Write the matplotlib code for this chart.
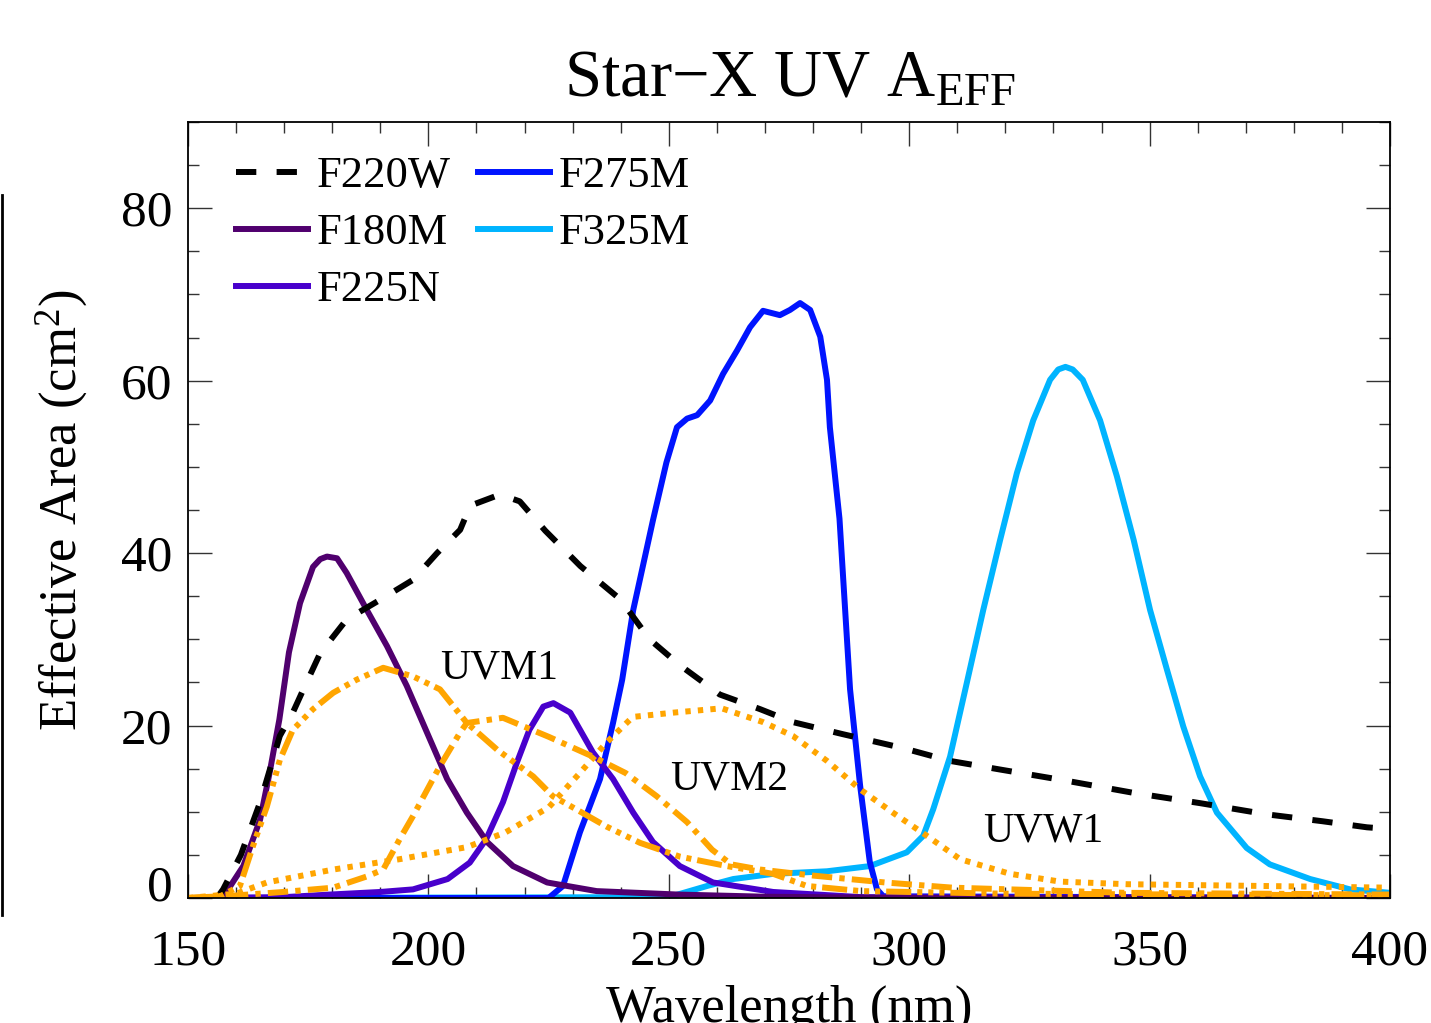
import matplotlib
matplotlib.use("Agg")
import matplotlib.pyplot as plt
from matplotlib.lines import Line2D
from matplotlib.ticker import MultipleLocator, FuncFormatter

plt.rcParams["font.family"] = ["Liberation Serif", "DejaVu Serif"]
plt.rcParams["mathtext.fontset"] = "custom"
plt.rcParams["mathtext.rm"] = "Liberation Serif"
plt.rcParams["mathtext.default"] = "regular"
plt.rcParams["lines.solid_joinstyle"] = "round"
plt.rcParams["lines.dash_joinstyle"] = "round"

# effective area curves (wavelength nm, area cm^2)
wl_f220w = [156, 157.3, 161, 165, 169.1, 171.8, 174, 177.5, 183, 190, 196.8, 201.8, 206.6,
            208.7, 214.9, 219, 224.3, 231.6, 240, 246, 252.3, 260.6, 269, 275.8, 286.2,
            298.6, 308.5, 318.9, 332.7, 346.6, 360.5, 374.4, 386, 395.2, 400]
a_f220w = [0, 1, 5, 11.1, 18.8, 21.5, 24.2, 28.4, 32.3, 34.6, 36.9, 40, 42.7,
           45.5, 46.8, 46, 42.6, 38.5, 34.6, 30, 27, 23.6, 21.9, 20.4, 19,
           17.4, 15.9, 14.9, 13.6, 12.2, 11.0, 9.7, 8.9, 8.2, 8.0]

wl_f180m = [150, 157, 158, 161.5, 165, 167, 169, 171, 173.3, 176, 177.5, 178.9, 181, 183,
            187.2, 191.4, 195.5, 199.7, 203.9, 208, 212.2, 217.6, 224.7, 235, 252, 270,
            300, 400]
a_f180m = [0, 0, 0.7, 3.7, 9.1, 14.6, 20.7, 28.5, 34.2, 38.4, 39.3, 39.6, 39.4, 37.7,
           33.4, 29.2, 24.6, 19.2, 13.8, 9.9, 6.5, 3.7, 1.8, 0.8, 0.4, 0.15,
           0, 0]

wl_f225n = [150, 170, 179.5, 190, 196.8, 204, 208.6, 212, 215.5, 218.4, 221, 223.9, 226,
            229.5, 234.2, 238.4, 242.6, 246.7, 252.3, 259.2, 271.7, 290, 400]
a_f225n = [0, 0.1, 0.4, 0.7, 1.0, 2.2, 4.1, 6.8, 11.1, 15.7, 19.5, 22.2, 22.6,
           21.5, 16.9, 13.8, 9.9, 6.5, 3.7, 1.8, 0.7, 0.1, 0]

wl_f275m = [150, 225, 228, 231.5, 235.7, 238.4, 240.3, 242.6, 246.7, 249.5, 251.7, 253.8,
            255.9, 258.6, 261.3, 264.2, 266.9, 269.6, 273.1, 275.2, 277.3, 279.4, 281.5,
            282.9, 283.5, 285.5, 287.7, 289.8, 291.8, 293.3, 294.6, 400]
a_f275m = [0, 0, 1.4, 7.6, 13.8, 20.3, 25.3, 33.4, 43.8, 50.5, 54.6, 55.6,
           56.0, 57.7, 60.8, 63.5, 66.2, 68.1, 67.6, 68.2, 69.0, 68.2, 65.1,
           60.1, 54.6, 44, 24.2, 13.0, 4.2, 1.0, 0.2, 0]

wl_f325m = [150, 250, 258, 263.4, 271.7, 282.9, 291.8, 299.5, 302.9, 305, 308.5, 312, 315.4,
            318.9, 322.4, 325.8, 329.3, 331, 332.5, 334, 336.1, 339.7, 343.2, 346.7, 350.1,
            353.6, 357, 360.5, 364, 370.2, 375, 383.4, 391.7, 400]
a_f325m = [0, 0.1, 1.4, 2.2, 2.8, 3.1, 3.7, 5.3, 7.2, 10.3, 16.4, 25, 33.4,
           41.5, 49.3, 55.4, 60.1, 61.3, 61.6, 61.3, 60.1, 55.4, 48.9, 41.5, 33.4,
           26.5, 19.9, 14.1, 9.9, 5.8, 3.9, 2.2, 1.0, 0.6]

# orange comparison curves
wl_uvm1 = [150, 156.7, 160.8, 163.5, 166.4, 169.1, 171.8, 176, 180.2, 185, 190.6, 196.8,
           202.4, 208, 214.3, 221.8, 225.9, 228.8, 237, 244, 252.3, 262.1, 271.7, 278.7,
           290, 320, 400]
a_uvm1 = [0, 0.2, 1.4, 6, 10.6, 16, 19.5, 21.9, 23.8, 25.3, 26.7, 25.7,
          24.2, 20.3, 17.2, 14.1, 11.8, 10.9, 8.3, 6.4, 4.8, 3.7, 2.8, 1.4,
          0.8, 0.5, 0.3]

wl_uvm2 = [150, 160, 169.8, 180.2, 187.2, 190.6, 194, 196.8, 202.4, 206.6, 208, 215.5, 225,
           234.2, 241, 247.5, 253.8, 259, 263, 269, 280, 295, 309, 345, 400]
a_uvm2 = [0, 0.3, 0.7, 1.2, 2.5, 3.3, 6.8, 9.5, 15.3, 19.2, 20.3, 20.9, 18.7,
          16.4, 14.5, 11.8, 8.8, 5.6, 3.9, 3.3, 2.6, 1.8, 1.2, 0.6, 0.4]

wl_uvw1 = [150, 160, 166.4, 180.2, 194, 202, 208, 216, 225, 231.5, 237, 242.5, 251, 261,
           269.6, 275.8, 282.9, 289.8, 296.6, 303.7, 310.6, 321, 331.4, 345.3, 400]
a_uvw1 = [0, 0.5, 1.8, 3.3, 4.5, 5.3, 5.9, 7.6, 10.5, 14.5, 18, 21, 21.5, 22,
          20.4, 18.8, 15.9, 12.6, 9.9, 7.2, 4.5, 2.8, 1.9, 1.6, 1.2]

orange_labels = ["UVM1", "UVM2", "UVW1"]
orange_label_pos = [(202.4, 26.7), (250.2, 13.8), (315.3, 7.7)]

LW = 4.3
ORANGE = "#ffa500"

fig = plt.figure(figsize=(14.31, 10.23), dpi=100)
ax = fig.add_axes([188 / 1431, 1 - 898 / 1023, 1202 / 1431, 776 / 1023])

h325, = ax.plot(wl_f325m, a_f325m, color="#00b4ff", lw=LW, label="F325M")
h275, = ax.plot(wl_f275m, a_f275m, color="#0014ff", lw=LW, label="F275M")
h225, = ax.plot(wl_f225n, a_f225n, color="#4800cc", lw=LW, label="F225N")
h180, = ax.plot(wl_f180m, a_f180m, color="#50006e", lw=LW, label="F180M")
h220, = ax.plot(wl_f220w, a_f220w, color="black", lw=LW, dashes=(3.4, 3.4), label="F220W")

ax.plot(wl_uvm1, a_uvm1, color=ORANGE, lw=LW,
        dashes=(4.2, 1.0, 0.85, 1.0, 0.85, 1.0, 0.85, 1.0))
ax.plot(wl_uvm2, a_uvm2, color=ORANGE, lw=LW, dashes=(3.4, 1.2, 0.9, 1.2))
ax.plot(wl_uvw1, a_uvw1, color=ORANGE, lw=LW, dashes=(0.9, 1.2))

for txt, (x, y) in zip(orange_labels, orange_label_pos):
    ax.text(x, y, txt, fontsize=30, ha="left", va="center")

ax.set_xlim(150, 400)
ax.set_ylim(0, 90)
ax.xaxis.set_major_locator(MultipleLocator(50))
ax.xaxis.set_minor_locator(MultipleLocator(10))
ax.yaxis.set_major_locator(MultipleLocator(20))
ax.yaxis.set_minor_locator(MultipleLocator(5))
ax.tick_params(which="both", direction="in", top=True, right=True, color="#333333")
ax.tick_params(which="major", length=17, width=1.0, labelsize=37)
ax.tick_params(axis="x", which="major", pad=22)
ax.tick_params(axis="y", which="major", pad=11)
ax.tick_params(which="minor", length=8, width=1.0)
for sp in ax.spines.values():
    sp.set_linewidth(1.3)

# IDL pushes the "0" label up off the corner, so draw it separately
ax.yaxis.set_major_formatter(FuncFormatter(lambda v, p: "" if v == 0 else f"{v:g}"))
ax.annotate("0", xy=(0, 0), xycoords="axes fraction", xytext=(-11, 10.8),
            textcoords="offset points", ha="right", va="center_baseline", fontsize=37)

ax.set_xlabel("Wavelength (nm)", fontsize=38, va="baseline")
ax.xaxis.set_label_coords(0.5, (898 - 1022) / 776)
ax.set_ylabel("Effective Area (cm$^{2}$)", fontsize=38, va="center")
ax.yaxis.set_label_coords((62 - 188) / 1202, 0.5)

fig.text(790 / 1431, 1 - 97 / 1023, "Star\u2212X UV A$_{\\mathrm{EFF}}$",
         fontsize=48, ha="center", va="baseline")

ax.legend(handles=[h220, h180, h225, h275, h325], ncol=2, frameon=False,
          loc="upper left", bbox_to_anchor=(0.04, 0.956), borderpad=0, borderaxespad=0,
          fontsize=32, handlelength=1.62, handletextpad=0.2, columnspacing=0.6,
          labelspacing=0.38)

# edge of a neighbouring panel cut into the picture
fig.add_artist(Line2D([0.0015, 0.0015], [1 - 195 / 1023, 1 - 915 / 1023],
                      transform=fig.transFigure, color="black", lw=2))

fig.savefig("out.png", dpi=100)
